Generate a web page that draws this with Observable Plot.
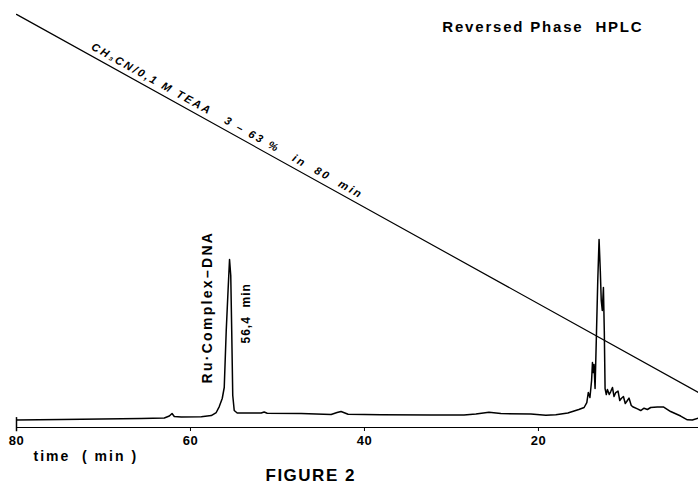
<!DOCTYPE html>
<html><head><meta charset="utf-8">
<script src="https://cdn.jsdelivr.net/npm/d3@7"></script>
<script src="https://cdn.jsdelivr.net/npm/@observablehq/plot@0.6"></script>
<style>html,body{margin:0;padding:0;background:#fff;overflow:hidden}</style>
</head><body><div id="chart"></div>
<script>
// Chromatogram (retention time in min, detector signal in arbitrary units)
const time = [80.0, 74.83, 70.24, 65.65, 63.01, 62.43, 62.12, 61.86, 61.06, 58.76, 57.61, 57.04, 56.69, 56.35, 56.12, 55.89, 55.68, 55.51, 55.37, 55.26, 55.14, 54.97, 54.63, 51.87, 51.53, 51.18, 47.28, 43.83, 43.15, 42.69, 41.88, 38.09, 32.35, 28.56, 27.19, 25.69, 24.32, 20.87, 19.15, 18.00, 16.62, 15.36, 14.75, 14.44, 14.27, 14.08, 13.89, 13.79, 13.70, 13.61, 13.49, 13.35, 13.18, 13.03, 12.89, 12.78, 12.66, 12.53, 12.43, 12.34, 12.20, 12.07, 11.86, 11.69, 11.49, 11.31, 11.11, 10.85, 10.65, 10.48, 10.23, 10.02, 9.85, 9.59, 9.33, 9.10, 8.62, 8.24, 7.86, 7.47, 7.10, 6.33, 5.60, 4.80, 3.65, 2.88, 2.31, 1.58];
const signal = [-0.08, 0, 0.08, 0.16, 0.23, 0.54, 0.93, 0.47, 0.39, 0.44, 0.62, 1.09, 2.02, 3.27, 4.98, 13.84, 20.06, 24.88, 22.40, 13.84, 3.73, 1.40, 1.01, 1.01, 1.17, 0.98, 0.93, 0.78, 1.09, 1.24, 0.82, 0.73, 0.70, 0.70, 0.86, 1.12, 0.93, 0.86, 0.65, 0.73, 1.01, 1.56, 1.87, 2.64, 4.20, 3.42, 6.07, 8.86, 7.31, 8.55, 4.82, 12.29, 21.62, 28.0, 23.17, 18.51, 16.95, 20.53, 13.84, 4.82, 3.89, 4.67, 3.89, 4.35, 4.98, 3.58, 4.20, 4.43, 2.95, 3.27, 3.58, 2.49, 2.80, 3.34, 2.18, 1.94, 1.66, 1.40, 1.76, 1.56, 1.87, 1.94, 1.94, 1.24, 0.54, -0.05, -0.08, 0.23];

// Gradient CH3CN 3 -> 63 % in 80 min (drawn against reversed time axis)
const gradientTime = [80, 0];
const gradientPercent = [63, 3];

// Axis
const xTicks = [80, 60, 40, 20];
const xDomain = [80, 1.6];
const yDomain = [-1.24, 65.16];

// Annotations
const labelText = ["Reversed Phase  HPLC", "CH\u2083CN/0,1 M TEAA   3 \u2013 63 %   in  80  min", "Ru\u00B7Complex\u2013DNA", "56,4  min"];
const labelTime = [19.49, 71.50, 58.07, 53.59];
const labelValue = [60.96, 57.6, 5.60, 11.82];
const axisLabel = "time  ( min )";
const figureLabel = "FIGURE 2";

const chrom = time.map((t, i) => ({t, v: signal[i]}));
const grad = gradientTime.map((t, i) => ({t, v: gradientPercent[i]}));
const lab = labelText.map((s, i) => ({s, t: labelTime[i], v: labelValue[i]}));

const plot = Plot.plot({
  width: 698, height: 484,
  marginLeft: 16, marginRight: 0, marginTop: 0, marginBottom: 57,
  style: {fontFamily: "'Liberation Sans', Arial, sans-serif", fontSize: "13px", fontWeight: "bold", background: "white", color: "black"},
  x: {domain: xDomain, ticks: xTicks, tickSize: 4, tickPadding: 4, line: true, label: null, tickFormat: d => String(d)},
  y: {domain: yDomain, axis: null},
  marks: [
    Plot.ruleX([xTicks[0]], {y1: 0.3, y2: -1.9, strokeWidth: 1.5}),
    Plot.line(grad, {x: "t", y: "v", stroke: "black", strokeWidth: 1.2, clip: true}),
    Plot.line(chrom, {x: "t", y: "v", stroke: "black", strokeWidth: 1.5, strokeLinejoin: "round", clip: true}),
    Plot.text([lab[0]], {x: "t", y: "v", text: "s", fontSize: 15, fontWeight: "bold", textAnchor: "middle", lineAnchor: "middle"}),
    Plot.text([lab[1]], {x: "t", y: "v", text: "s", fontSize: 11, fontWeight: "bold", fontStyle: "italic", textAnchor: "start", lineAnchor: "bottom", rotate: 29, fontFamily: "'Liberation Sans', 'DejaVu Sans', sans-serif"}),
    Plot.text([lab[2]], {x: "t", y: "v", text: "s", fontSize: 14, fontWeight: "bold", textAnchor: "start", lineAnchor: "middle", rotate: -90}),
    Plot.text([lab[3]], {x: "t", y: "v", text: "s", fontSize: 12, fontWeight: "bold", textAnchor: "start", lineAnchor: "middle", rotate: -90}),
    Plot.text([axisLabel], {frameAnchor: "bottom-left", dx: 17, dy: 29, fontSize: 14, fontWeight: "bold", textAnchor: "start", lineAnchor: "middle"}),
    Plot.text([figureLabel], {frameAnchor: "bottom-left", dx: 249, dy: 48, fontSize: 17, fontWeight: "bold", textAnchor: "start", lineAnchor: "middle"})
  ]
});
document.getElementById("chart").appendChild(plot);

const spacing = (s) => {
  if (s.startsWith("Reversed")) return "1.8px";
  if (s.startsWith("CH")) return "2.3px";
  if (s.startsWith("Ru")) return "2.3px";
  if (s.startsWith("56")) return "1px";
  if (s.startsWith("time")) return "2px";
  if (s.startsWith("FIGURE")) return "1.5px";
  return "0.5px";
};
d3.select(plot).selectAll("text").each(function() {
  this.setAttribute("letter-spacing", spacing(this.textContent));
});
d3.select(plot).selectAll("[aria-label='x-axis'] path, [aria-label='x-axis line'] path").attr("stroke-width", 1.5);
</script>
</body></html>
